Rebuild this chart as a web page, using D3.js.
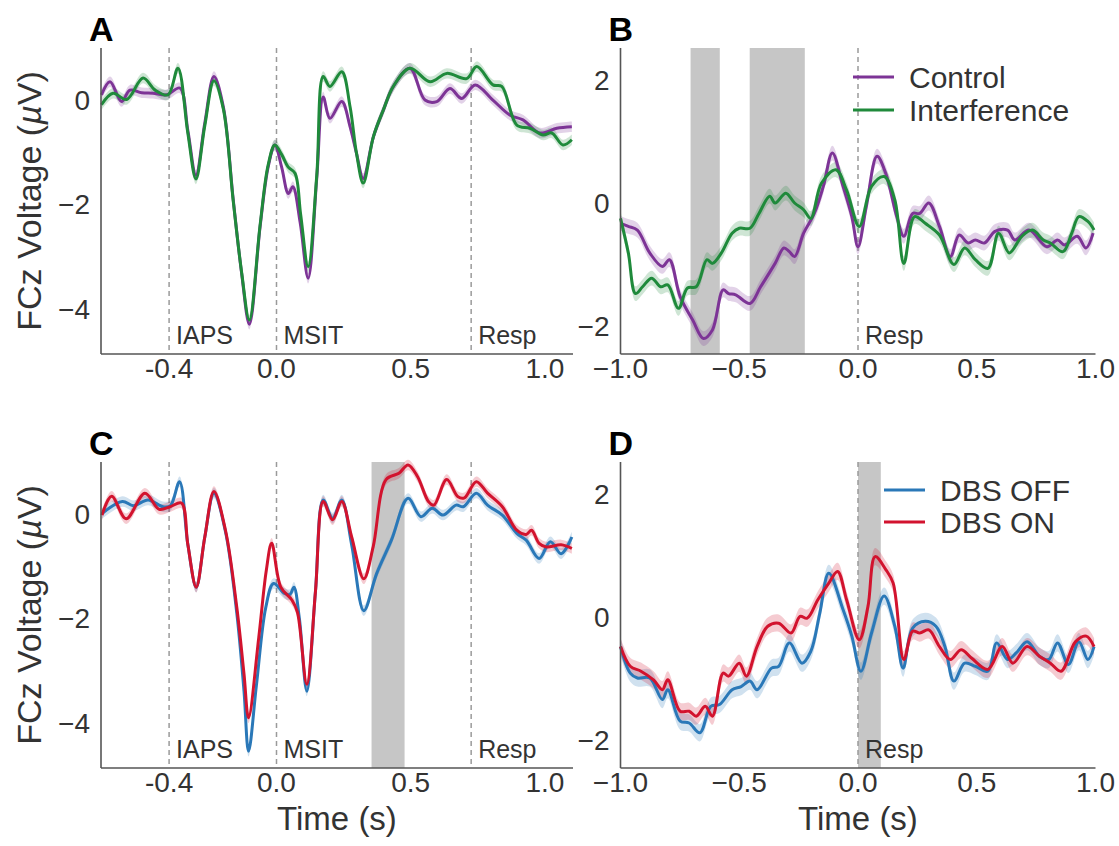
<!DOCTYPE html>
<html>
<head>
<meta charset="utf-8">
<script src="https://cdn.jsdelivr.net/npm/d3@7"></script>
<style>
  body { margin: 0; background: #fff; }
  text { font-family: "Liberation Sans", Arial, Helvetica, sans-serif; }
</style>
</head>
<body>
<svg id="fig" width="1119" height="846"></svg>
<script>
// ---- Data: FCz ERP traces, [time (s), voltage (µV)] ----

// Panel A: stimulus-locked, task condition
const controlA = [
  [-0.652, 0.09], [-0.620, 0.34], [-0.577, -0.04], [-0.546, 0.18], [-0.502, 0.13],
  [-0.460, 0.12], [-0.409, 0.09], [-0.360, 0.22], [-0.330, -0.60], [-0.300, -1.45],
  [-0.267, -0.45], [-0.233, 0.44], [-0.198, -0.14], [-0.161, -1.92], [-0.130, -3.32],
  [-0.101, -4.30], [-0.061, -2.43], [-0.031, -1.29], [-0.006, -0.87], [0.019, -1.29],
  [0.044, -1.80], [0.061, -1.67], [0.088, -2.35], [0.118, -3.42], [0.150, -1.50],
  [0.174, 0.05], [0.199, -0.36], [0.243, -0.04], [0.274, -0.52], [0.298, -1.03],
  [0.323, -1.51], [0.361, -0.71], [0.398, -0.20], [0.435, 0.25], [0.497, 0.60],
  [0.553, -0.01], [0.597, -0.04], [0.646, 0.21], [0.690, 0.02], [0.740, 0.28],
  [0.806, -0.01], [0.870, -0.30], [0.918, -0.39], [0.981, -0.64], [1.044, -0.55],
  [1.100, -0.52]
];
const interferenceA = [
  [-0.652, -0.10], [-0.609, 0.12], [-0.558, 0.00], [-0.497, 0.41], [-0.452, 0.18],
  [-0.404, 0.09], [-0.367, 0.60], [-0.330, -0.65], [-0.300, -1.52], [-0.267, -0.50],
  [-0.233, 0.36], [-0.198, -0.18], [-0.161, -1.95], [-0.130, -3.30], [-0.101, -4.22],
  [-0.061, -2.40], [-0.031, -1.25], [-0.006, -0.87], [0.019, -1.05], [0.043, -1.29],
  [0.069, -1.41], [0.090, -2.20], [0.118, -3.20], [0.150, -1.45], [0.174, 0.44],
  [0.199, 0.25], [0.243, 0.53], [0.274, -0.14], [0.298, -1.03], [0.323, -1.60],
  [0.361, -0.71], [0.398, -0.20], [0.435, 0.25], [0.497, 0.60], [0.572, 0.34],
  [0.634, 0.50], [0.708, 0.40], [0.746, 0.63], [0.806, 0.28], [0.839, 0.25],
  [0.895, -0.49], [0.944, -0.55], [0.993, -0.68], [1.025, -0.64], [1.067, -0.87],
  [1.100, -0.77]
];

// Panel B: response-locked, task condition
const controlB = [
  [-1.000, -0.33], [-0.967, -0.38], [-0.929, -0.44], [-0.877, -0.81], [-0.824, -1.03],
  [-0.794, -0.92], [-0.749, -1.52], [-0.696, -1.90], [-0.651, -2.20], [-0.613, -2.06],
  [-0.568, -1.41], [-0.545, -1.47], [-0.515, -1.49], [-0.455, -1.63], [-0.410, -1.36],
  [-0.349, -0.98], [-0.312, -0.73], [-0.289, -0.79], [-0.267, -0.87], [-0.229, -0.49],
  [-0.184, -0.17], [-0.146, 0.27], [-0.108, 0.81], [-0.063, 0.27], [-0.026, -0.22],
  [0.000, -0.71], [0.035, -0.06], [0.080, 0.76], [0.117, 0.48], [0.163, -0.22],
  [0.193, -0.54], [0.230, -0.17], [0.260, -0.17], [0.298, 0.00], [0.343, -0.38],
  [0.389, -0.87], [0.426, -0.52], [0.464, -0.65], [0.494, -0.60], [0.532, -0.65],
  [0.577, -0.46], [0.630, -0.44], [0.660, -0.60], [0.720, -0.44], [0.795, -0.71],
  [0.840, -0.60], [0.870, -0.68], [0.923, -0.54], [0.960, -0.73], [0.990, -0.49]
];
const interferenceB = [
  [-1.000, -0.25], [-0.967, -0.81], [-0.937, -1.47], [-0.907, -1.36], [-0.869, -1.22],
  [-0.831, -1.36], [-0.801, -1.33], [-0.756, -1.71], [-0.718, -1.38], [-0.681, -1.36],
  [-0.636, -0.92], [-0.613, -0.98], [-0.575, -0.81], [-0.530, -0.49], [-0.500, -0.41],
  [-0.455, -0.41], [-0.417, -0.17], [-0.372, 0.11], [-0.349, 0.00], [-0.304, 0.16],
  [-0.267, 0.00], [-0.229, -0.11], [-0.199, -0.25], [-0.154, 0.32], [-0.093, 0.54],
  [-0.048, 0.21], [0.005, -0.38], [0.057, 0.27], [0.110, 0.43], [0.155, 0.05],
  [0.193, -0.98], [0.238, -0.22], [0.283, -0.33], [0.343, -0.52], [0.404, -1.00],
  [0.449, -0.73], [0.494, -0.92], [0.547, -1.06], [0.592, -0.49], [0.637, -0.81],
  [0.690, -0.54], [0.735, -0.44], [0.780, -0.60], [0.810, -0.65], [0.863, -0.79],
  [0.900, -0.49], [0.930, -0.22], [0.968, -0.30], [0.994, -0.44]
];

// Panel C: stimulus-locked, stimulation state
const dbsOffC = [
  [-0.650, 0.00], [-0.574, 0.23], [-0.533, 0.15], [-0.478, 0.26], [-0.423, 0.13],
  [-0.395, 0.15], [-0.361, 0.61], [-0.330, -0.60], [-0.299, -1.41], [-0.267, -0.45],
  [-0.233, 0.39], [-0.190, -0.35], [-0.148, -1.90], [-0.121, -3.40], [-0.104, -4.55],
  [-0.075, -3.30], [-0.040, -1.80], [-0.011, -1.34], [0.030, -1.53], [0.050, -1.55],
  [0.065, -1.41], [0.085, -2.00], [0.113, -3.40], [0.145, -1.50], [0.174, 0.26],
  [0.209, -0.09], [0.243, 0.26], [0.280, -0.60], [0.325, -1.86], [0.373, -1.15],
  [0.428, -0.51], [0.490, 0.29], [0.538, -0.06], [0.580, 0.10], [0.620, -0.03],
  [0.669, 0.16], [0.696, 0.13], [0.744, 0.39], [0.786, 0.16], [0.841, -0.03],
  [0.895, -0.38], [0.930, -0.51], [0.978, -0.86], [1.020, -0.54], [1.060, -0.77],
  [1.100, -0.45]
];
const dbsOnC = [
  [-0.650, -0.03], [-0.614, 0.33], [-0.560, -0.10], [-0.490, 0.39], [-0.437, 0.08],
  [-0.396, 0.13], [-0.354, 0.20], [-0.330, -0.60], [-0.299, -1.41], [-0.267, -0.45],
  [-0.233, 0.42], [-0.190, -0.32], [-0.148, -1.79], [-0.121, -3.07], [-0.104, -3.91],
  [-0.066, -2.37], [-0.038, -1.09], [-0.018, -0.57], [0.016, -1.41], [0.058, -1.66],
  [0.078, -1.89], [0.113, -3.27], [0.145, -1.50], [0.174, 0.23], [0.209, -0.12],
  [0.243, 0.23], [0.280, -0.45], [0.325, -1.25], [0.360, -0.64], [0.408, 0.65],
  [0.456, 0.77], [0.490, 0.93], [0.525, 0.71], [0.566, 0.23], [0.586, 0.16],
  [0.634, 0.65], [0.676, 0.32], [0.700, 0.30], [0.744, 0.61], [0.786, 0.39],
  [0.841, 0.13], [0.895, -0.32], [0.930, -0.40], [0.950, -0.32], [0.978, -0.57],
  [1.005, -0.64], [1.060, -0.60], [1.100, -0.67]
];

// Panel D: response-locked, stimulation state
const dbsOffD = [
  [-1.000, -0.48], [-0.959, -0.91], [-0.929, -0.99], [-0.877, -0.99], [-0.824, -1.34],
  [-0.801, -1.18], [-0.749, -1.69], [-0.711, -1.72], [-0.666, -1.88], [-0.620, -1.45],
  [-0.583, -1.42], [-0.530, -1.18], [-0.492, -1.13], [-0.455, -1.04], [-0.425, -1.18],
  [-0.364, -0.83], [-0.334, -0.80], [-0.289, -0.42], [-0.236, -0.75], [-0.199, -0.56],
  [-0.161, 0.06], [-0.123, 0.71], [-0.063, 0.12], [-0.026, -0.31], [0.012, -0.88],
  [0.057, -0.26], [0.110, 0.34], [0.155, -0.15], [0.190, -0.83], [0.230, -0.18],
  [0.283, -0.07], [0.328, -0.15], [0.366, -0.48], [0.404, -1.04], [0.449, -0.75],
  [0.494, -0.80], [0.547, -0.88], [0.584, -0.42], [0.630, -0.69], [0.667, -0.58],
  [0.712, -0.40], [0.765, -0.64], [0.803, -0.69], [0.840, -0.42], [0.886, -0.77],
  [0.930, -0.40], [0.968, -0.69], [0.994, -0.48]
];
const dbsOnD = [
  [-1.000, -0.48], [-0.959, -0.80], [-0.914, -0.88], [-0.861, -1.02], [-0.824, -1.18],
  [-0.801, -1.02], [-0.749, -1.53], [-0.711, -1.53], [-0.681, -1.61], [-0.643, -1.45],
  [-0.613, -1.61], [-0.568, -0.91], [-0.545, -0.96], [-0.500, -0.75], [-0.470, -0.96],
  [-0.425, -0.48], [-0.380, -0.15], [-0.334, -0.10], [-0.282, -0.26], [-0.244, 0.01],
  [-0.214, -0.02], [-0.169, 0.28], [-0.123, 0.55], [-0.086, 0.74], [-0.048, 0.28],
  [0.005, -0.37], [0.042, 0.17], [0.072, 0.98], [0.117, 0.77], [0.148, 0.55],
  [0.193, -0.69], [0.230, -0.23], [0.260, -0.26], [0.298, -0.21], [0.343, -0.48],
  [0.389, -0.69], [0.434, -0.53], [0.479, -0.67], [0.547, -0.85], [0.607, -0.48],
  [0.652, -0.75], [0.712, -0.48], [0.765, -0.64], [0.810, -0.75], [0.855, -0.88],
  [0.916, -0.40], [0.961, -0.31], [0.994, -0.48]
];

// Significant-difference windows (s)
const shadedB = [[-0.705, -0.582], [-0.456, -0.224]];
const shadedC = [[0.354, 0.477]];
const shadedD = [[0.000, 0.096]];

// Event markers
const stimEvents = [
  { t: -0.4, label: "IAPS" }, { t: 0.0, label: "MSIT" }, { t: 0.725, label: "Resp" }
];
const respEvents = [{ t: 0.0, label: "Resp" }];

// Tick values and labels
const stimTicks = [-0.4, 0.0, 0.5, 1.0];
const stimTickLabels = ["-0.4", "0.0", "0.5", "1.0"];
const respTicks = [-1.0, -0.5, 0.0, 0.5, 1.0];
const respTickLabels = ["\u22121.0", "\u22120.5", "0.0", "0.5", "1.0"];
const stimYTicks = [0, -2, -4];
const stimYTickLabels = ["0", "\u22122", "\u22124"];
const respYTicks = [2, 0, -2];
const respYTickLabels = ["2", "0", "\u22122"];

// Error-band half widths (µV)
const semA = 0.1, semB = 0.12, semC = 0.1, semD = 0.14;

// ---- Styling ----
const purple = "#7d3496";
const green = "#1f8a3b";
const blue = "#2a78b8";
const red = "#d2132e";
const shadeGray = "#c6c6c6";
const axisGray = "#555";
const textGray = "#333";

const svg = d3.select("#fig");
svg.append("rect").attr("width", 1119).attr("height", 846).attr("fill", "#fff");

const panels = [
  { letter: "A", box: [101, 573, 48, 354], xDomain: [-0.6536, 1.1043], yDomain: [-4.871, 0.986],
    xTicks: stimTicks, xLabels: stimTickLabels, yTicks: stimYTicks, yLabels: stimYTickLabels,
    series: [ { data: controlA, color: purple }, { data: interferenceA, color: green } ],
    sem: semA, shades: [], events: stimEvents, yTitle: true, xTitle: false, legend: null },
  { letter: "B", box: [620.5, 1095.5, 48, 354], xDomain: [-1, 1], yDomain: [-2.451, 2.516],
    xTicks: respTicks, xLabels: respTickLabels, yTicks: respYTicks, yLabels: respYTickLabels,
    series: [ { data: controlB, color: purple, name: "Control" }, { data: interferenceB, color: green, name: "Interference" } ],
    sem: semB, shades: shadedB, events: respEvents, yTitle: false, xTitle: false,
    legend: { x: 853, y: 77, gap: 33 } },
  { letter: "C", box: [101, 573, 462, 768], xDomain: [-0.6536, 1.1043], yDomain: [-4.871, 0.986],
    xTicks: stimTicks, xLabels: stimTickLabels, yTicks: stimYTicks, yLabels: stimYTickLabels,
    series: [ { data: dbsOffC, color: blue }, { data: dbsOnC, color: red } ],
    sem: semC, shades: shadedC, events: stimEvents, yTitle: true, xTitle: true, legend: null },
  { letter: "D", box: [620.5, 1095.5, 462, 768], xDomain: [-1, 1], yDomain: [-2.451, 2.516],
    xTicks: respTicks, xLabels: respTickLabels, yTicks: respYTicks, yLabels: respYTickLabels,
    series: [ { data: dbsOffD, color: blue, name: "DBS OFF" }, { data: dbsOnD, color: red, name: "DBS ON" } ],
    sem: semD, shades: shadedD, events: respEvents, yTitle: false, xTitle: true,
    legend: { x: 884, y: 490, gap: 32 } }
];

panels.forEach(p => {
  const [L, R, T, B] = p.box;
  const x = d3.scaleLinear().domain(p.xDomain).range([L, R]);
  const y = d3.scaleLinear().domain(p.yDomain).range([B, T]);
  const g = svg.append("g");

  // significance windows
  g.selectAll("rect.shade").data(p.shades).join("rect")
    .attr("x", d => x(d[0])).attr("width", d => x(d[1]) - x(d[0]))
    .attr("y", T).attr("height", B - T)
    .attr("fill", shadeGray);

  // event markers
  g.selectAll("line.evt").data(p.events).join("line")
    .attr("x1", d => x(d.t)).attr("x2", d => x(d.t))
    .attr("y1", T).attr("y2", B)
    .attr("stroke", "#9a9a9a").attr("stroke-width", 1.5)
    .attr("stroke-dasharray", "5,4");

  const curve = d3.curveCatmullRom.alpha(0.5);
  const area = d3.area().curve(curve)
    .x(d => x(d[0])).y0(d => y(d[1] - p.sem)).y1(d => y(d[1] + p.sem));
  const line = d3.line().curve(curve).x(d => x(d[0])).y(d => y(d[1]));

  p.series.forEach(s => {
    g.append("path").datum(s.data).attr("d", area)
      .attr("fill", s.color).attr("fill-opacity", 0.22);
  });
  p.series.forEach(s => {
    g.append("path").datum(s.data).attr("d", line)
      .attr("fill", "none").attr("stroke", s.color)
      .attr("stroke-width", 3).attr("stroke-linejoin", "round");
  });

  // event labels
  g.selectAll("text.evt").data(p.events).join("text")
    .attr("x", d => x(d.t) + 7).attr("y", B - 10)
    .attr("font-size", 25).attr("fill", textGray)
    .text(d => d.label);

  // axes (spines only, no tick marks)
  g.append("line").attr("x1", L).attr("x2", L).attr("y1", T).attr("y2", B)
    .attr("stroke", axisGray).attr("stroke-width", 1.6);
  g.append("line").attr("x1", L).attr("x2", R).attr("y1", B).attr("y2", B)
    .attr("stroke", axisGray).attr("stroke-width", 1.6);

  g.selectAll("text.xt").data(p.xTicks).join("text")
    .attr("x", d => x(d)).attr("y", B + 24)
    .attr("text-anchor", "middle").attr("font-size", 28).attr("fill", textGray)
    .text((d, i) => p.xLabels[i]);
  g.selectAll("text.yt").data(p.yTicks).join("text")
    .attr("x", L - 11).attr("y", d => y(d)).attr("dy", "0.36em")
    .attr("text-anchor", "end").attr("font-size", 28).attr("fill", textGray)
    .text((d, i) => p.yLabels[i]);

  if (p.yTitle) {
    const yt = g.append("text")
      .attr("transform", `translate(41,${(T + B) / 2}) rotate(-90)`)
      .attr("text-anchor", "middle").attr("font-size", 34).attr("fill", textGray);
    yt.append("tspan").text("FCz Voltage (");
    yt.append("tspan").attr("font-style", "italic").text("\u00b5");
    yt.append("tspan").text("V)");
  }
  if (p.xTitle) {
    g.append("text").attr("x", (L + R) / 2).attr("y", B + 62)
      .attr("text-anchor", "middle").attr("font-size", 33).attr("fill", textGray)
      .text("Time (s)");
  }

  // panel letter
  g.append("text").attr("x", L - 12).attr("y", T - 7)
    .attr("font-size", 34).attr("font-weight", "bold").attr("fill", "#000")
    .text(p.letter);

  // legend
  if (p.legend) {
    p.series.forEach((s, i) => {
      const ly = p.legend.y + i * p.legend.gap;
      g.append("line").attr("x1", p.legend.x).attr("x2", p.legend.x + 41)
        .attr("y1", ly).attr("y2", ly)
        .attr("stroke", s.color).attr("stroke-width", 3);
      g.append("text").attr("x", p.legend.x + 56).attr("y", ly).attr("dy", "0.36em")
        .attr("font-size", 30).attr("fill", textGray).text(s.name);
    });
  }
});
</script>
</body>
</html>
